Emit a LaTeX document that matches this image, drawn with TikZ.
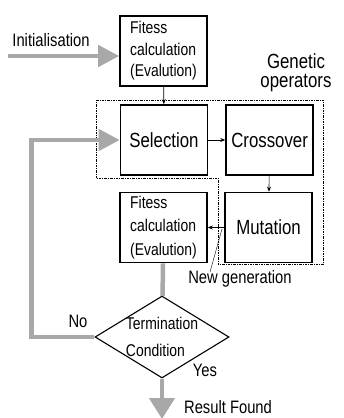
\documentclass[tikz,border=0pt]{standalone}
\usepackage{fontspec}
\setmainfont{Liberation Sans}[FakeStretch=0.82]
\usepackage{tikz}
\usetikzlibrary{arrows,arrows.meta}
\usetikzlibrary{shapes.geometric,positioning}
\definecolor{flowgray}{RGB}{168,168,168}
\tikzset{
    op box/.style={
        draw,
        line width=1.6pt,
        align=center,
        inner sep=0pt,
        minimum width=87pt,
        minimum height=70pt,
        font=\fontsize{20.5}{22}\selectfont
    },
    fit box/.style={
        op box,
        align=left,
        font=\fontsize{17}{21.5}\selectfont
    },
    cond shape/.style={
        diamond,
        draw,
        line width=1.1pt,
        inner sep=0pt,
        minimum width=134pt,
        minimum height=82pt
    },
    label text/.style={
        inner sep=0pt,
        font=\fontsize{18}{19}\selectfont
    },
    gray flow/.style={
        draw=flowgray,
        line width=4.5pt
    },
    gray arrow/.style={
        gray flow,
        -{Triangle[length=21pt,width=21pt]}
    },
    ops border/.style={
        thin,
        dash pattern=on 2.5pt off 1pt on 1pt off 1pt
    }
}

\begin{document}
\begin{tikzpicture}[x=1pt,y=-1pt]
    \useasboundingbox (0,0) rectangle (344,418);
    % genetic operators region
    \draw[ops border] (96,100) -- (323,100) -- (323,264) -- (218,264)
        -- (218,178) -- (96,178) -- cycle;
    \node[fit box] (fit1) at (163.5,51) {Fitess\\calculation\\(Evalution)};
    \node[op box] (sel) at (164,140) {Selection};
    \node[op box,right=17pt of sel] (cross) {Crossover};
    \node[op box] (mut) at (268.5,227.5) {Mutation};
    \node[fit box,font=\fontsize{17}{23.5}\selectfont] (fit2) at (163.5,227.5)
        {Fitess\\calculation\\(Evalution)};
    \node[cond shape,label={[align=left,font=\fontsize{17}{27}\selectfont]center:Termination\\Condition}]
        (cond) at (162,337) {};
    % labels
    \node[label text] (init) at (51,40) {Initialisation};
    \node[label text,align=center,font=\fontsize{20.5}{19}\selectfont] (genop) at (296,73) {Genetic\\operators};
    \node[label text] (newgen) at (240,279) {New generation};
    \node[label text] (no) at (78,321) {No};
    \node[label text] (yes) at (205,370) {Yes};
    \node[label text] (result) at (228,407) {Result Found};
    % black arrows
    \foreach \s/\t in {fit1/sel,sel/cross,cross/mut,mut/fit2}
      \draw[-{Stealth[length=5pt,width=4pt]},semithick] (\s) -- (\t);
    \coordinate (ngstart) at (222,229);
    \coordinate (ngend) at (210,272);
    \draw[thin] (ngstart) -- (ngend);
    % gray flow
    \coordinate (start) at (8,56);
    \coordinate (finish) at (162,419);
    \draw[gray arrow] (start) -- (start -| fit1.west);
    \draw[gray flow] (fit2) -- (cond);
    \draw[gray arrow] (cond.west) -- ++(-63,0) |- (sel.west);
    \draw[gray arrow,-{Triangle[length=21pt,width=25pt]}] (cond) -- (finish);
\end{tikzpicture}
\end{document}
